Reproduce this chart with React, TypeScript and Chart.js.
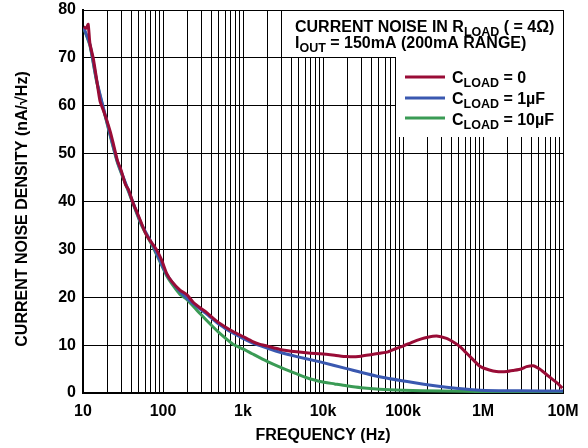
import React, { useEffect, useRef } from 'react';
import { Chart, registerables } from 'chart.js';

Chart.register(...registerables);

const FONT = '"Liberation Sans", Arial, Helvetica, sans-serif';

// ---- data ----
const redFreq = [10.2, 11, 11.6, 12.2, 13.4, 14.8, 16.3, 18, 19.8, 22, 24, 27, 30, 34, 37, 42, 48, 54, 60, 66, 75, 83, 96, 111, 130, 163, 200, 240, 290, 352, 470, 600, 760, 1000, 1300, 1600, 2000, 2900, 4700, 7000, 9200, 14000, 19700, 30000, 51000, 65000, 82000, 100000, 134000, 170000, 197000, 263000, 350000, 430000, 515000, 600000, 690000, 800000, 930000, 1.2e6, 1.47e6, 2e6, 2.4e6, 3e6, 3.5e6, 4.26e6, 5e6, 5.6e6, 6.5e6, 7.6e6, 8.7e6, 9.8e6];
const redValues = [76.5, 76.2, 77, 73, 70, 65.5, 61, 59, 57, 54.5, 52, 48.5, 46.5, 43.5, 42.5, 39.8, 37.5, 35.4, 33.5, 32.3, 31, 29.9, 27.8, 25, 23.2, 21.5, 20.5, 18.9, 17.8, 16.8, 15, 13.8, 12.8, 11.8, 10.8, 10.2, 9.8, 9.1, 8.6, 8.3, 8.2, 7.9, 7.6, 7.7, 8.3, 8.6, 9.3, 9.8, 10.7, 11.3, 11.6, 11.9, 11.4, 10.6, 9.7, 8.6, 7.6, 6.5, 5.5, 4.8, 4.5, 4.5, 4.7, 5.0, 5.5, 5.7, 5.1, 4.5, 3.6, 2.7, 1.9, 1.0];

const blueFreq = [10.2, 12.2, 14.8, 19.8, 27, 37, 54, 75, 111, 163, 240, 352, 470, 600, 760, 1000, 1300, 2000, 2900, 4700, 9200, 19700, 51000, 134000, 350000, 930000, 3e6, 1e7];
const blueValues = [76.3, 72.8, 65.3, 56.8, 48.3, 42.3, 35.2, 30.8, 24.8, 21.2, 18.6, 16.5, 14.7, 13.5, 12.5, 11.4, 10.5, 9.4, 8.5, 7.6, 6.5, 5.1, 3.4, 2.2, 1.2, 0.6, 0.45, 0.4];

const greenFreq = [10.2, 12.2, 14.8, 19.8, 27, 37, 54, 75, 111, 140, 163, 200, 290, 400, 518, 750, 1000, 1300, 2000, 2900, 4700, 6000, 9200, 14000, 19700, 30000, 51000, 100000, 300000, 1e6, 1e7];
const greenValues = [76.2, 72.6, 65.1, 56.6, 48.1, 42.1, 35, 30.5, 24.5, 22, 20.6, 19.5, 16.6, 14.2, 12.4, 10.2, 9.2, 8.2, 6.6, 5.4, 4.0, 3.3, 2.4, 1.9, 1.5, 1.1, 0.8, 0.6, 0.4, 0.3, 0.3];

const xTickValues = [10, 100, 1e3, 1e4, 1e5, 1e6, 1e7];
const xTickLabels = ['10', '100', '1k', '10k', '100k', '1M', '10M'];
const yMin = 0;
const yMax = 80;
const yStep = 10;

const seriesNames = ['0', '1µF', '10µF'];
const seriesColors = ['#990C36', '#3A58B0', '#3A9B55'];

const xTitle = 'FREQUENCY (Hz)';
const yTitle = 'CURRENT NOISE DENSITY (nA/√Hz)';
const noteLine1: [string, boolean][] = [['CURRENT NOISE IN R', false], ['LOAD', true], [' ( = 4Ω)', false]];
const noteLine2: [string, boolean][] = [['I', false], ['OUT', true], [' = 150mA (200mA RANGE)', false]];

function drawRich(ctx: CanvasRenderingContext2D, parts: [string, boolean][], x: number, y: number) {
  let cx = x;
  for (const [t, sub] of parts) {
    ctx.font = sub ? `bold 12.5px ${FONT}` : `bold 16px ${FONT}`;
    ctx.fillText(t, cx, sub ? y + 4 : y);
    cx += ctx.measureText(t).width;
  }
}

const gridPlugin = {
  id: 'hGrid',
  beforeDatasetsDraw(chart: any) {
    const { ctx, chartArea: a, scales } = chart;
    const ys = scales.y;
    ctx.save();
    ctx.strokeStyle = '#000';
    ctx.lineWidth = 1;
    for (const t of ys.ticks) {
      const p = Math.round(ys.getPixelForValue(t.value) - 0.5) + 0.5;
      ctx.beginPath();
      ctx.moveTo(a.left, p);
      ctx.lineTo(a.right, p);
      ctx.stroke();
    }
    ctx.restore();
  },
};

const annotationPlugin = {
  id: 'noteBox',
  afterDraw(chart: any) {
    const { ctx, chartArea: a, scales } = chart;
    const xs = scales.x;
    const ys = scales.y;
    const col = (p: number) => Math.round(p - 0.5);
    const x3k = col(xs.getPixelForValue(3000));
    const x80k = col(xs.getPixelForValue(80000));
    const y70 = col(ys.getPixelForValue(70));
    const top = col(a.top);
    const right = col(a.right);
    const boxBottom = Math.round(ys.getPixelForValue(53.4));
    ctx.save();
    ctx.fillStyle = '#ffffff';
    ctx.fillRect(x3k + 1, top + 1, right - x3k - 1, y70 - top - 1);
    ctx.fillRect(x80k + 1, y70, right - x80k - 1, boxBottom - y70);
    ctx.fillStyle = '#000';
    ctx.textBaseline = 'alphabetic';
    ctx.textAlign = 'left';
    drawRich(ctx, noteLine1, x3k + 14, 32);
    drawRich(ctx, noteLine2, x3k + 14, 48);
    const sampleY = [77, 98, 118];
    const textY = [83, 104, 125];
    for (let i = 0; i < seriesNames.length; i++) {
      ctx.strokeStyle = seriesColors[i];
      ctx.lineWidth = 3;
      ctx.beginPath();
      ctx.moveTo(405, sampleY[i]);
      ctx.lineTo(445, sampleY[i]);
      ctx.stroke();
      ctx.fillStyle = '#000';
      drawRich(ctx, [['C', false], ['LOAD', true], [' = ' + seriesNames[i], false]], 452, textY[i]);
    }
    // y-axis title
    ctx.translate(23, 209);
    ctx.rotate(-Math.PI / 2);
    ctx.font = `bold 16px ${FONT}`;
    ctx.textAlign = 'center';
    ctx.textBaseline = 'middle';
    ctx.fillText(yTitle, 0, 0);
    ctx.restore();
  },
};

function toPoints(f: number[], v: number[]) {
  return f.map((x, i) => ({ x, y: v[i] }));
}

export default function App() {
  const ref = useRef<HTMLCanvasElement>(null);
  useEffect(() => {
    document.body.style.margin = '0';
    const canvas = ref.current!;
    const chart = new Chart(canvas, {
      type: 'line',
      data: {
        datasets: [
          { label: seriesNames[0], data: toPoints(redFreq, redValues), borderColor: seriesColors[0] },
          { label: seriesNames[1], data: toPoints(blueFreq, blueValues), borderColor: seriesColors[1] },
          { label: seriesNames[2], data: toPoints(greenFreq, greenValues), borderColor: seriesColors[2] },
        ].map((d) => ({ ...d, borderWidth: 3, pointRadius: 0, tension: 0.2, fill: false })),
      },
      options: {
        animation: false,
        responsive: false,
        devicePixelRatio: 1,
        layout: { padding: { top: 10, right: 25, bottom: 0, left: 0 } },
        plugins: { legend: { display: false }, tooltip: { enabled: false } },
        scales: {
          x: {
            type: 'logarithmic',
            min: 10,
            max: 1e7,
            afterBuildTicks: (scale: any) => {
              const t: { value: number }[] = [];
              for (let e = 1; e <= 6; e++) for (let m = 1; m <= 9; m++) t.push({ value: m * Math.pow(10, e) });
              t.push({ value: 1e7 });
              scale.ticks = t;
            },
            afterFit: (scale: any) => {
              scale.height = 55;
              scale.paddingLeft = 0;
              scale.paddingRight = 0;
            },
            grid: { color: '#000', lineWidth: 1, drawTicks: false },
            border: { display: true, color: '#000', width: 2 },
            ticks: {
              autoSkip: false,
              maxRotation: 0,
              padding: 9,
              color: '#000',
              font: { family: FONT, size: 16, weight: 'bold' },
              callback: (value: any) => {
                const i = xTickValues.indexOf(Number(value));
                return i >= 0 ? xTickLabels[i] : '';
              },
            },
            title: {
              display: true,
              text: xTitle,
              color: '#000',
              font: { family: FONT, size: 16, weight: 'bold' },
              padding: { top: 0, bottom: 3 },
            },
          },
          y: {
            min: yMin,
            max: yMax,
            afterFit: (scale: any) => {
              scale.width = 83;
              scale.paddingTop = 0;
              scale.paddingBottom = 0;
            },
            grid: { color: '#000', lineWidth: 1, drawTicks: false },
            border: { display: true, color: '#000', width: 2 },
            ticks: {
              stepSize: yStep,
              padding: 7,
              color: '#000',
              font: { family: FONT, size: 16, weight: 'bold' },
            },
            title: { display: false, text: yTitle },
          },
        },
      },
      plugins: [gridPlugin, annotationPlugin],
    } as any);
    return () => chart.destroy();
  }, []);
  return (
    <div style={{ width: 588, height: 448, background: '#fff' }}>
      <canvas ref={ref} width={588} height={448} style={{ display: 'block' }} />
    </div>
  );
}
